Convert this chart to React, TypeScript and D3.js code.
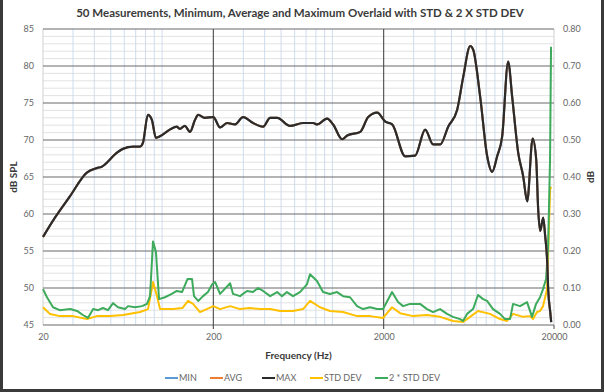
import * as d3 from 'd3';
import React, { useRef, useEffect } from 'react';

// frequency (Hz) and level (dB SPL) of the MAX trace
const maxFreq = [20, 23.5, 28.8, 36.2, 41.4, 44.3, 54.4, 58.9, 67.5, 74.2, 77.2, 82.6, 87.2, 92, 97.1, 111, 122, 127, 136, 146,
  156, 163, 178, 200, 219, 241, 268, 299, 342, 392, 431, 474, 564, 673, 771, 813, 931, 1010, 1141, 1221,
  1457, 1623, 1833, 2041, 2244, 2675, 3063, 3505, 3906, 4295, 4786, 5404, 5860, 6443, 6709, 7376, 8105, 8670, 9277, 9926,
  10765, 11366, 12323, 13185, 13919, 14985, 15720, 16150, 16594, 17283, 17755, 18244, 18491, 18997, 19255];
const maxLevel = [56.9, 59.5, 62.4, 65.6, 66.2, 66.4, 68.3, 68.8, 69.1, 69.1, 69.6, 73.4, 72.7, 70.3, 70.5, 71.4, 71.8, 71.5, 71.9, 71.1,
  72.7, 73.4, 73.0, 73.1, 71.7, 72.3, 72.1, 73.1, 72.3, 71.8, 73.0, 73.0, 71.9, 72.3, 72.3, 72.1, 72.9, 72.1, 70.1, 70.6,
  71.1, 73.1, 73.7, 72.5, 72.1, 67.8, 67.9, 71.4, 69.4, 69.4, 71.8, 74.1, 78.5, 82.7, 82.2, 75.8, 67.8, 65.7, 67.8, 70.5,
  80.6, 75.8, 68.3, 65.1, 61.7, 70.2, 67.4, 60.6, 57.7, 59.5, 57.0, 53.5, 49.8, 46.8, 45.4];
// MIN and AVG sit under MAX at this scale
const minLevel = maxLevel;
const avgLevel = maxLevel;

const std2Freq = [20, 21.1, 22.9, 25.1, 28.9, 31.7, 34.3, 36.7, 39.4, 42.1, 45, 48.1, 51.6, 55.1, 60.6, 63.1, 69.4, 76.3, 81.6, 85,
  88.5, 92.1, 96, 104, 114, 122, 131, 141, 150, 154, 163, 174, 186, 197, 205, 219, 251, 261, 287, 315,
  342, 366, 392, 431, 474, 506, 541, 587, 645, 709, 739, 812, 881, 968, 1065, 1155, 1270, 1396, 1513, 1664,
  1829, 1983, 2240, 2429, 2600, 2857, 3271, 3595, 3898, 4286, 4712, 5110, 5617, 5848, 6174, 6696, 7164, 7665, 8090, 8773,
  9644, 10318, 11039, 11497, 12637, 13893, 14864, 15690, 16561, 17247, 17960, 18452, 18958, 19215];
const std2Val = [0.097, 0.075, 0.048, 0.040, 0.043, 0.038, 0.027, 0.019, 0.043, 0.040, 0.046, 0.040, 0.059, 0.048, 0.043, 0.051, 0.048, 0.051, 0.057, 0.078,
  0.226, 0.197, 0.070, 0.075, 0.084, 0.092, 0.089, 0.124, 0.124, 0.078, 0.065, 0.078, 0.089, 0.110, 0.116, 0.084, 0.113, 0.084, 0.078, 0.092,
  0.089, 0.100, 0.092, 0.078, 0.089, 0.078, 0.089, 0.078, 0.089, 0.110, 0.137, 0.119, 0.089, 0.084, 0.089, 0.078, 0.075, 0.051, 0.043, 0.048,
  0.043, 0.043, 0.089, 0.062, 0.051, 0.057, 0.057, 0.043, 0.035, 0.043, 0.030, 0.022, 0.016, 0.011, 0.030, 0.043, 0.081, 0.070, 0.065, 0.043,
  0.030, 0.016, 0.016, 0.057, 0.051, 0.062, 0.022, 0.057, 0.075, 0.097, 0.124, 0.205, 0.447, 0.752];

const stdFreq = [20, 22, 25.1, 30, 36.2, 41.5, 49.5, 59, 74.3, 82.7, 88.5, 93.4, 97.3, 116, 132, 142, 152, 167, 183, 200,
  219, 251, 287, 328, 376, 431, 493, 587, 673, 739, 846, 968, 1155, 1396, 1664, 1983, 2240, 2497, 2975, 3595,
  4286, 5110, 5848, 6430, 7164, 8425, 9644, 10600, 11497, 13161, 14467, 15067, 15904, 16561, 17247, 18204, 18452, 18958, 19215];
const stdVal = [0.048, 0.030, 0.024, 0.024, 0.016, 0.024, 0.024, 0.027, 0.035, 0.043, 0.116, 0.078, 0.043, 0.043, 0.046, 0.065, 0.057, 0.035, 0.043, 0.051,
  0.043, 0.051, 0.043, 0.046, 0.043, 0.043, 0.038, 0.038, 0.043, 0.065, 0.048, 0.038, 0.035, 0.024, 0.024, 0.019, 0.048, 0.032, 0.024, 0.027,
  0.022, 0.011, 0.008, 0.022, 0.038, 0.030, 0.016, 0.011, 0.030, 0.022, 0.024, 0.016, 0.035, 0.038, 0.051, 0.097, 0.178, 0.366, 0.374];

const freqTicks = [20, 200, 2000, 20000];
const dbTicks = [45, 50, 55, 60, 65, 70, 75, 80, 85];
const stdTicks = [0, 0.1, 0.2, 0.3, 0.4, 0.5, 0.6, 0.7, 0.8];
const legendNames = ['MIN', 'AVG', 'MAX', 'STD DEV', '2 * STD DEV'];
const legendColors = ['#5b9bd5', '#ed7d31', '#2b2b2b', '#ffc000', '#3daa5c'];

const W = 604, H = 392;
const FONT = 'Lato, "Open Sans", sans-serif';

function App() {
  const ref = useRef(null);

  useEffect(() => {
    const svg = d3.select(ref.current);
    svg.selectAll('*').remove();

    const m = { top: 29, right: 50, bottom: 67, left: 43 };

    const x = d3.scaleLog().domain([20, 20000]).range([m.left, W - m.right]);
    const y = d3.scaleLinear().domain([45, 85]).range([H - m.bottom, m.top]);
    const y2 = d3.scaleLinear().domain([0, 0.8]).range([H - m.bottom, m.top]);

    svg.append('rect').attr('width', W).attr('height', H).attr('fill', '#fff');

    // frame
    svg.append('path')
      .attr('d', `M1.5,0 V${H - 1.5} H${W - 1.5} V0`)
      .attr('fill', 'none').attr('stroke', '#3a3a3a').attr('stroke-width', 3);

    // title
    svg.append('text')
      .attr('x', 300).attr('y', 17)
      .attr('text-anchor', 'middle')
      .attr('font-family', FONT).attr('font-weight', 'bold').attr('font-size', 11.5)
      .attr('fill', '#3a3a3a')
      .text('50 Measurements,  Minimum, Average and Maximum Overlaid with STD & 2 X STD DEV');

    const grid = svg.append('g');
    // minor horizontal lines every dB
    grid.selectAll('line.hmin')
      .data(d3.range(46, 85).filter(d => d % 5 !== 0))
      .join('line')
      .attr('x1', x(20)).attr('x2', x(20000))
      .attr('y1', d => y(d)).attr('y2', d => y(d))
      .attr('stroke', '#dadada').attr('stroke-width', 0.8);

    // minor vertical lines (3..10 within each decade)
    const minorV = [];
    [10, 100, 1000].forEach(dec => { for (let k = 3; k <= 10; k++) minorV.push(dec * k); });
    grid.selectAll('line.vmin')
      .data(minorV)
      .join('line')
      .attr('x1', d => x(d)).attr('x2', d => x(d))
      .attr('y1', y(85)).attr('y2', y(45))
      .attr('stroke', '#c9d8ec').attr('stroke-width', 0.9);

    grid.selectAll('line.edge')
      .data([20, 20000])
      .join('line')
      .attr('x1', d => x(d)).attr('x2', d => x(d))
      .attr('y1', y(85)).attr('y2', y(45))
      .attr('stroke', '#d0d0d0');

    // major horizontal
    grid.selectAll('line.hmaj')
      .data(dbTicks)
      .join('line')
      .attr('x1', x(20)).attr('x2', x(20000))
      .attr('y1', d => y(d)).attr('y2', d => y(d))
      .attr('stroke', '#6a6a6a').attr('stroke-width', 1.1);

    // major vertical
    grid.selectAll('line.vmaj')
      .data([200, 2000])
      .join('line')
      .attr('x1', d => x(d)).attr('x2', d => x(d))
      .attr('y1', y(85)).attr('y2', y(45) + 4)
      .attr('stroke', '#4a4a4a').attr('stroke-width', 1.1);
    grid.append('line')
      .attr('x1', x(20000)).attr('x2', x(20000))
      .attr('y1', y(45)).attr('y2', y(45) + 4)
      .attr('stroke', '#4a4a4a');

    const styleAxis = g => {
      g.select('.domain').remove();
      g.selectAll('text')
        .attr('font-family', FONT).attr('font-size', 9).attr('fill', '#666');
    };

    svg.append('g')
      .attr('transform', `translate(${m.left},0)`)
      .call(d3.axisLeft(y).tickValues(dbTicks).tickSize(0).tickPadding(9))
      .call(styleAxis);

    svg.append('g')
      .attr('transform', `translate(${W - m.right},0)`)
      .call(d3.axisRight(y2).tickValues(stdTicks).tickFormat(d3.format('.2f')).tickSize(0).tickPadding(9))
      .call(styleAxis);

    svg.append('g')
      .attr('transform', `translate(0,${H - m.bottom})`)
      .call(d3.axisBottom(x).tickValues(freqTicks).tickFormat(d => String(d)).tickSize(0).tickPadding(9))
      .call(styleAxis);

    // axis titles
    svg.append('text')
      .attr('transform', `translate(17,${(y(45) + y(85)) / 2}) rotate(-90)`)
      .attr('text-anchor', 'middle')
      .attr('font-family', FONT).attr('font-weight', 'bold').attr('font-size', 10)
      .attr('fill', '#3a3a3a')
      .text('dB SPL');
    svg.append('text')
      .attr('transform', `translate(594,${(y(45) + y(85)) / 2}) rotate(-90)`)
      .attr('text-anchor', 'middle')
      .attr('font-family', FONT).attr('font-weight', 'bold').attr('font-size', 10)
      .attr('fill', '#3a3a3a')
      .text('dB');
    svg.append('text')
      .attr('x', (x(20) + x(20000)) / 2).attr('y', 359)
      .attr('text-anchor', 'middle')
      .attr('font-family', FONT).attr('font-weight', 'bold').attr('font-size', 10)
      .attr('fill', '#3a3a3a')
      .text('Frequency (Hz)');

    const lineDb = d3.line()
      .x(d => x(d[0])).y(d => y(d[1]))
      .curve(d3.curveMonotoneX);
    const lineStd = d3.line()
      .x(d => x(d[0])).y(d => y2(d[1]));

    const plot = svg.append('g').attr('fill', 'none').attr('stroke-linejoin', 'round');

    plot.append('path')
      .attr('d', lineStd(stdFreq.map((f, i) => [f, stdVal[i]])))
      .attr('stroke', legendColors[3]).attr('stroke-width', 2);
    plot.append('path')
      .attr('d', lineStd(std2Freq.map((f, i) => [f, std2Val[i]])))
      .attr('stroke', legendColors[4]).attr('stroke-width', 2);
    plot.append('path')
      .attr('d', lineDb(maxFreq.map((f, i) => [f, minLevel[i]])))
      .attr('stroke', legendColors[0]).attr('stroke-width', 2);
    plot.append('path')
      .attr('d', lineDb(maxFreq.map((f, i) => [f, avgLevel[i]])))
      .attr('stroke', legendColors[1]).attr('stroke-width', 2);
    plot.append('path')
      .attr('d', lineDb(maxFreq.map((f, i) => [f, maxLevel[i]])))
      .attr('stroke', legendColors[2]).attr('stroke-width', 2.2);

    // legend
    const legendX = [165, 210, 262, 310, 375];
    const leg = svg.append('g').attr('transform', 'translate(0,378)');
    legendNames.forEach((name, i) => {
      leg.append('line')
        .attr('x1', legendX[i]).attr('x2', legendX[i] + 13)
        .attr('stroke', legendColors[i]).attr('stroke-width', 2);
      leg.append('text')
        .attr('x', legendX[i] + 14).attr('y', 3)
        .attr('font-family', FONT).attr('font-size', 9).attr('fill', '#666')
        .text(name);
    });
  }, []);

  return (
    <svg ref={ref} width={W} height={H} style={{ position: 'absolute', left: 0, top: 0 }} />
  );
}

export default App;
